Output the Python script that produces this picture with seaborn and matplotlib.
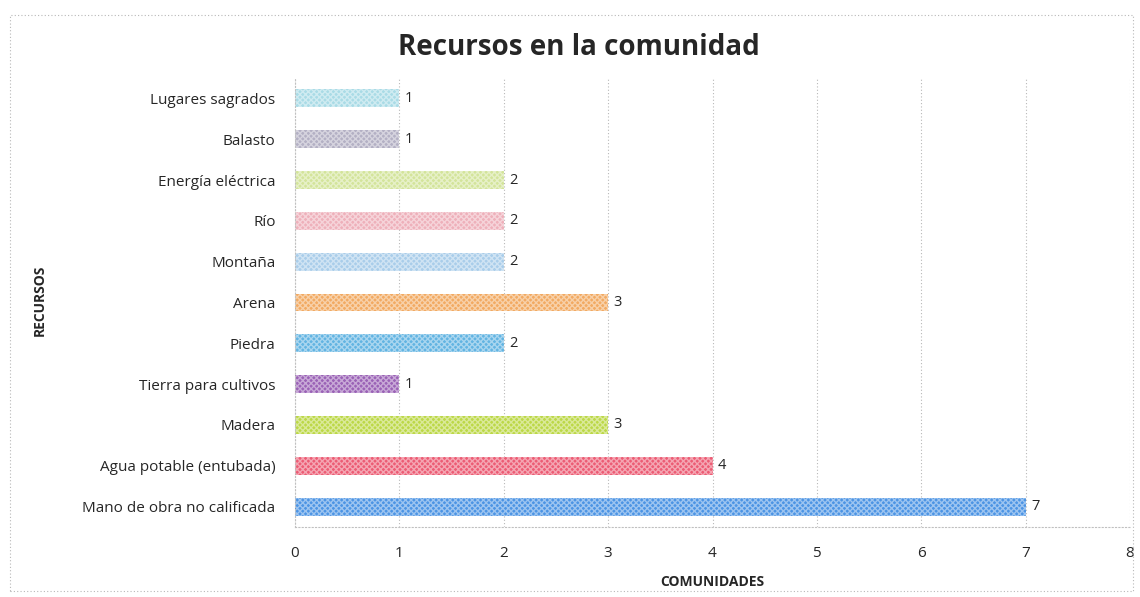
import matplotlib.pyplot as plt
import matplotlib.patches as mpatches
import seaborn as sns
import pandas as pd

recursos = ['Lugares sagrados', 'Balasto', 'Energía eléctrica', 'Río', 'Montaña',
            'Arena', 'Piedra', 'Tierra para cultivos', 'Madera',
            'Agua potable (entubada)', 'Mano de obra no calificada']
comunidades = [1, 1, 2, 2, 2, 3, 2, 1, 3, 4, 7]
colores = ['#a9dbe6', '#b3b0c4', '#d3e49a', '#eeb0ba', '#a9cdea',
           '#f2aa62', '#62b4e2', '#9a62b6', '#bcd846', '#ec5c74', '#4c94e4']

sns.set_style('white')
plt.rcParams['font.family'] = ['Open Sans', 'DejaVu Sans']

df = pd.DataFrame({'recurso': recursos, 'valor': comunidades})

fig = plt.figure(figsize=(11.4, 5.97), dpi=100)
ax = fig.add_axes([0.2588, 0.1173, 0.7324, 0.752])

sns.barplot(data=df, x='valor', y='recurso', hue='recurso', palette=colores,
            order=recursos, hue_order=recursos, width=0.44, legend=False,
            saturation=1, ax=ax)

# trama rayada como en el original
for p in ax.patches:
    p.set_hatch('xxxxxx')
    p.set_edgecolor((1, 1, 1, 0.45))
    p.set_linewidth(0)

for c in ax.containers:
    ax.bar_label(c, padding=4, fontsize=10.5)

ax.set_xlim(0, 8)
ax.set_xticks(range(0, 9))
ax.tick_params(axis='x', labelsize=11, pad=14, length=0)
ax.tick_params(axis='y', labelsize=11, pad=14, length=0)
ax.grid(axis='x', color='#b8b8b8', linestyle=(0, (1, 2)), linewidth=0.8)
ax.set_axisbelow(True)

for side in ['top', 'right']:
    ax.spines[side].set_visible(False)
for side in ['left', 'bottom']:
    ax.spines[side].set_color('#c0c0c0')
    ax.spines[side].set_linestyle((0, (1, 2)))
    ax.spines[side].set_linewidth(0.8)

ax.set_xlabel('COMUNIDADES', fontsize=10, fontweight='bold', labelpad=10)
ax.set_ylabel('')
fig.text(0.035, 0.497, 'RECURSOS', rotation=90, fontsize=10, fontweight='bold',
         ha='center', va='center')
fig.suptitle('Recursos en la comunidad', fontsize=20, fontweight='bold', y=0.945, x=0.508)

# marco punteado exterior
fig.patches.append(mpatches.Rectangle((0.009, 0.01), 0.985, 0.965, transform=fig.transFigure,
                                      fill=False, edgecolor='#b8b8b8', linestyle=(0, (1, 2)),
                                      linewidth=0.8))

plt.savefig('out.png', dpi=100)
